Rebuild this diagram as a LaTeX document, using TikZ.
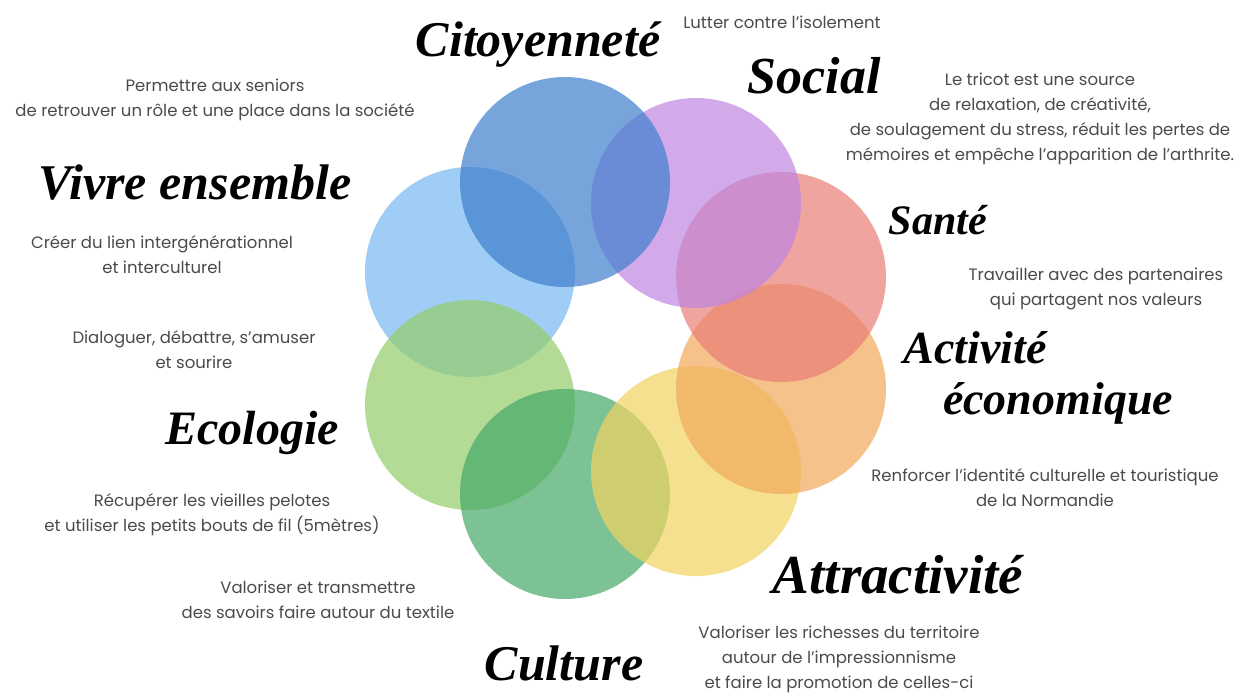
\documentclass[tikz,border=0pt]{standalone}
\usepackage{fontspec}
\setmainfont{Poppins}
\newfontfamily\headfont{Liberation Serif}
\usetikzlibrary{shapes.geometric}
\definecolor{cBlue}{RGB}{62,126,205}
\definecolor{cLBlue}{RGB}{119,184,241}
\definecolor{cPurple}{RGB}{191,134,226}
\definecolor{cRed}{RGB}{233,126,119}
\definecolor{cOrange}{RGB}{241,169,91}
\definecolor{cYellow}{RGB}{241,212,98}
\definecolor{cGreen}{RGB}{69,169,105}
\definecolor{cLGreen}{RGB}{148,205,105}
\definecolor{txt}{RGB}{75,75,75}
\tikzset{
  ring/.style={circle, minimum size=210pt, inner sep=0pt, fill=#1, fill opacity=0.7, draw=none},
  heading/.style={font=\headfont\bfseries\itshape\fontsize{#1}{#1}\selectfont, text=black, inner sep=0pt},
  heading/.default=49,
  body/.style={font=\fontsize{16.5}{25}\selectfont, text=txt, align=center, inner sep=0pt}
}
\begin{document}
\begin{tikzpicture}[x=1pt,y=-1pt]
\useasboundingbox (0,0) rectangle (1250,693);
\fill[white] (0,0) rectangle (1250,693);
% circles
\node[ring=cLBlue]  (vivre)   at (470,272) {};
\node[ring=cLGreen] (ecolo)   at (470,405) {};
\node[ring=cGreen]  (cult)    at (565,494) {};
\node[ring=cYellow] (attr)    at (696,471) {};
\node[ring=cOrange] (activ)   at (781,389) {};
\node[ring=cRed]    (sante)   at (781,277) {};
\node[ring=cPurple] (social)  at (696,203) {};
\node[ring=cBlue]   (citoy)   at (565,182) {};
% headings
\node[heading=50] (hCitoy)  at (538,45)  {Citoyenneté};
\node[heading=52] (hSocial) at (814,76)  {Social};
\node[heading=50] (hVivre)  at (195,183) {Vivre ensemble};
\node[heading=42] (hSante)  at (938,220) {Santé};
\node[heading=46] (hActiv1) at (975,348) {Activité};
\node[heading=46] (hActiv2) at (1058,403) {économique};
\node[heading=48] (hEcolo)  at (252,433) {Ecologie};
\node[heading=55] (hAttr)   at (898,575) {Attractivité};
\node[heading=50] (hCult)   at (564,663) {Culture};
% texts
\node[body] (tLutter) at (782,22) {Lutter contre l'isolement};
\node[body] (tSeniors) at (215,100) {Permettre aux seniors\\de retrouver un rôle et une place dans la société};
\node[body] (tTricot) at (1040,119) {Le tricot est une source\\de relaxation, de créativité,\\de soulagement du stress, réduit les pertes de\\mémoires et empêche l'apparition de l'arthrite.};
\node[body] (tLien) at (162,255) {Créer du lien intergénérationnel\\et interculturel};
\node[body] (tPart) at (1096,289) {Travailler avec des partenaires\\qui partagent nos valeurs};
\node[body] (tDial) at (194,350) {Dialoguer, débattre, s'amuser\\et sourire};
\node[body] (tNorm) at (1045,488) {Renforcer l'identité culturelle et touristique\\de la Normandie};
\node[body] (tPel) at (212,515) {Récupérer les vieilles pelotes\\et utiliser les petits bouts de fil (5mètres)};
\node[body] (tText) at (318,600) {Valoriser et transmettre\\des savoirs faire autour du textile};
\node[body] (tRich) at (839,659) {Valoriser les richesses du territoire\\autour de l'impressionnisme\\et faire la promotion de celles-ci};
\end{tikzpicture}
\end{document}
